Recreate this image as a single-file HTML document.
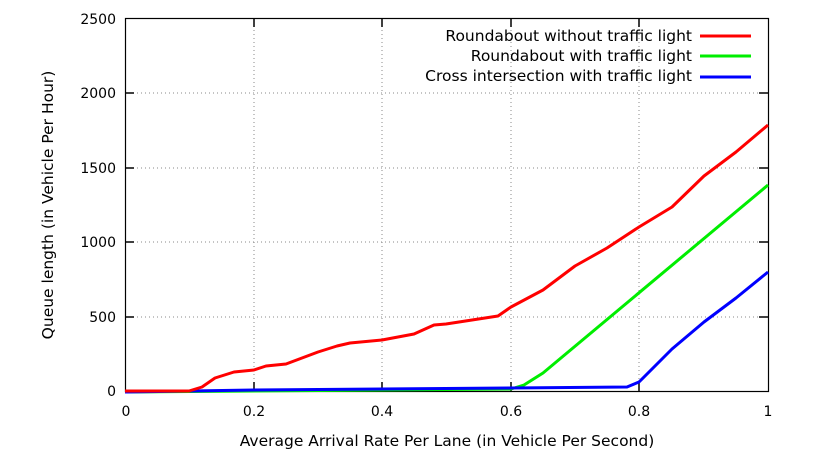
<!DOCTYPE html>
<html><head><style>body{margin:0;background:#fff}svg text{font-family:"DejaVu Sans","Liberation Sans",sans-serif;font-size:14px;fill:#000}svg text.b{font-size:15.5px}</style></head>
<body>
<svg width="824" height="466" viewBox="0 0 824 466" xmlns="http://www.w3.org/2000/svg">
<g stroke="#888" stroke-width="1" stroke-dasharray="1,3" fill="none">
<line x1="125" y1="93" x2="768" y2="93"/><line x1="125" y1="168" x2="768" y2="168"/><line x1="125" y1="242" x2="768" y2="242"/><line x1="125" y1="317" x2="768" y2="317"/>
<line x1="254" y1="18" x2="254" y2="391"/><line x1="382" y1="18" x2="382" y2="391"/><line x1="511" y1="18" x2="511" y2="391"/><line x1="639" y1="18" x2="639" y2="391"/>
</g>
<rect x="125.5" y="18.5" width="643" height="373" fill="none" stroke="#000" stroke-width="1.2"/>
<g stroke="#000" stroke-width="1.5">
<line x1="125" y1="93" x2="134" y2="93"/><line x1="125" y1="168" x2="134" y2="168"/><line x1="125" y1="242" x2="134" y2="242"/><line x1="125" y1="317" x2="134" y2="317"/>
<line x1="768" y1="93" x2="759" y2="93"/><line x1="768" y1="168" x2="759" y2="168"/><line x1="768" y1="242" x2="759" y2="242"/><line x1="768" y1="317" x2="759" y2="317"/>
<line x1="254" y1="391" x2="254" y2="382"/><line x1="382" y1="391" x2="382" y2="382"/><line x1="511" y1="391" x2="511" y2="382"/><line x1="639" y1="391" x2="639" y2="382"/>
<line x1="254" y1="18" x2="254" y2="27"/><line x1="382" y1="18" x2="382" y2="27"/><line x1="511" y1="18" x2="511" y2="27"/><line x1="639" y1="18" x2="639" y2="27"/>
</g>
<g text-anchor="end">
<text x="116" y="396">0</text><text x="116" y="322">500</text><text x="116" y="247">1000</text><text x="116" y="173">1500</text><text x="116" y="98">2000</text><text x="116" y="24">2500</text>
</g>
<g text-anchor="middle">
<text x="126" y="416">0</text><text x="254" y="416">0.2</text><text x="382" y="416">0.4</text><text x="511" y="416">0.6</text><text x="639" y="416">0.8</text><text x="768" y="416">1</text>
<text class="b" x="447" y="446">Average Arrival Rate Per Lane (in Vehicle Per Second)</text>
<text class="b" transform="translate(53,205) rotate(-90)">Queue length (in Vehicle Per Hour)</text>
</g>
<g text-anchor="end">
<text class="b" x="692" y="41">Roundabout without traffic light</text>
<text class="b" x="692" y="61">Roundabout with traffic light</text>
<text class="b" x="692" y="81">Cross intersection with traffic light</text>
</g>
<g stroke-width="3" fill="none" stroke-linejoin="round">
<line x1="700" y1="36" x2="751" y2="36" stroke="#f00"/>
<line x1="700" y1="56" x2="751" y2="56" stroke="#0e0"/>
<line x1="700" y1="77" x2="751" y2="77" stroke="#00f"/>
<polyline stroke="#0e0" points="125,392 511,389 524,385 543,373 768,185"/>
<polyline stroke="#00f" points="125,392 254,390 511,388 627,387 639,382 672,349 704,322 736,298 768,272"/>
<polyline stroke="#f00" points="125,391 189,391 202,387 215,378 234,372 254,370 266,366 286,364 318,352 337,346 350,343 382,340 414,334 434,325 446,324 498,316 511,307 543,290 575,266 607,248 639,227 672,207 704,176 736,152 768,125"/>
</g>
</svg>
</body></html>
